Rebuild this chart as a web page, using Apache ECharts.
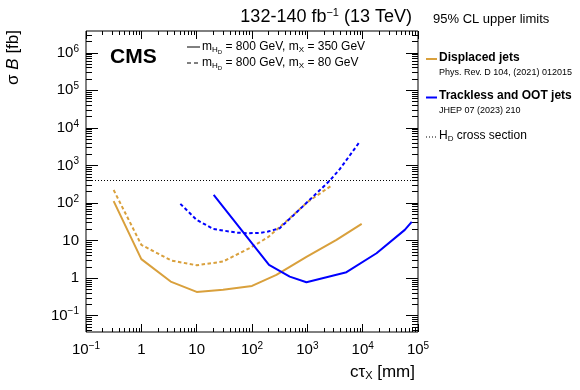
<!DOCTYPE html>
<html><head><meta charset="utf-8">
<script src="https://cdn.jsdelivr.net/npm/echarts@6/dist/echarts.min.js"></script>
<style>html,body{margin:0;padding:0;background:#fff}#c{width:580px;height:390px}</style>
</head><body><div id="c"></div>
<script>
// ---- data (cτ in mm, σB in fb) ----
const X_TICK_EXP = [-1, 0, 1, 2, 3, 4, 5];
const X_TICK_LABELS = ['10^-1', '1', '10', '10^2', '10^3', '10^4', '10^5'];
const Y_TICK_EXP = [-1, 0, 1, 2, 3, 4, 5, 6];
const Y_TICK_LABELS = ['10^-1', '1', '10', '10^2', '10^3', '10^4', '10^5', '10^6'];

const DJ350_CTAU  = [0.316, 1, 3.39, 10, 30, 100, 148, 276, 964, 3360, 9600];
const DJ350_SIGMA = [112, 3.2, 0.81, 0.43, 0.49, 0.62, 0.81, 1.22, 3.7, 10.4, 27.8];
const DJ80_CTAU   = [0.316, 1, 3.49, 10, 30, 98, 195, 481, 1030, 2840];
const DJ80_SIGMA  = [222, 7.7, 2.94, 2.2, 2.77, 6.7, 12.3, 39.4, 109, 303];
const TO350_CTAU  = [20.3, 203, 481, 964, 5100, 17800, 57700, 77000];
const TO350_SIGMA = [164, 2.26, 1.1, 0.78, 1.44, 4.6, 19.3, 31.4];
const TO80_CTAU   = [5.07, 10, 20, 52, 80, 138, 195, 317, 551, 1268, 2540, 3860, 8870];
const TO80_SIGMA  = [95, 35.6, 20.4, 16.3, 15.7, 16, 17.4, 21.4, 46, 148, 394, 800, 4300];
const HD_XSEC = 400;

const X_MIN = -1, X_MAX = 5, Y_MIN = -1.434, Y_MAX = 6.58;
const FONT = '"Liberation Sans", Arial, Helvetica, sans-serif';
const ORANGE = '#d9a03c', BLUE = '#0000ff';

function pts(xs, ys) { return xs.map((x, i) => [Math.log10(x), Math.log10(ys[i])]); }
function minorTicks(lo, hi) {
  const out = [];
  for (let n = Math.floor(lo); n <= Math.ceil(hi); n++)
    for (let k = 2; k <= 9; k++) { const v = n + Math.log10(k); if (v > lo && v < hi) out.push(v); }
  return out;
}
function powRich(lbl) {
  const p = lbl.split('^');
  return p.length > 1 ? '{n|' + p[0] + '}{s|' + p[1].replace('-', '\u2212') + '}' : '{n|' + p[0] + '}';
}
const labelRich = {
  n: { fontSize: 15, fontFamily: FONT, color: '#000', lineHeight: 20 },
  s: { fontSize: 10, fontFamily: FONT, color: '#000', lineHeight: 11, padding: [0, 0, 8, 0] }
};
const tickStyle = { color: '#000', width: 1 };

function xAx(pos, values, len, labels) {
  return {
    type: 'value', min: X_MIN, max: X_MAX, position: pos,
    axisLine: { show: false, onZero: false }, splitLine: { show: false },
    axisTick: { show: true, inside: true, length: len, customValues: values, lineStyle: tickStyle },
    axisLabel: labels ? {
      show: true, customValues: X_TICK_EXP, margin: 8, rich: labelRich,
      formatter: v => powRich(X_TICK_LABELS[X_TICK_EXP.indexOf(Math.round(v))])
    } : { show: false }
  };
}
function yAx(pos, values, len, labels) {
  return {
    type: 'value', min: Y_MIN, max: Y_MAX, position: pos,
    axisLine: { show: false, onZero: false }, splitLine: { show: false },
    axisTick: { show: true, inside: true, length: len, customValues: values, lineStyle: tickStyle },
    axisLabel: labels ? {
      show: true, customValues: Y_TICK_EXP, margin: 7, rich: labelRich,
      formatter: v => powRich(Y_TICK_LABELS[Y_TICK_EXP.indexOf(Math.round(v))])
    } : { show: false }
  };
}
const xMin = minorTicks(X_MIN, X_MAX), yMin = minorTicks(Y_MIN, Y_MAX);

function line(name, xs, ys, color, dashed) {
  return {
    name, type: 'line', xAxisIndex: 0, yAxisIndex: 0, data: pts(xs, ys),
    symbol: 'none', smooth: false, clip: true,
    lineStyle: { color, width: 2, type: dashed ? [3.5, 2.5] : 'solid' }
  };
}

const txt = (x, y, text, opt) => Object.assign({ type: 'text', x, y, style: Object.assign({
  text, fill: '#000', font: (opt && opt.font) || ('12px ' + FONT), align: 'left', verticalAlign: 'middle'
}, opt && opt.style) }, opt && opt.extra);

const chart = echarts.init(document.getElementById('c'), null, { renderer: 'canvas' });
chart.setOption({
  animation: false,
  backgroundColor: '#fff',
  grid: { left: 86, right: 162, top: 31, bottom: 58, show: true, borderColor: '#000', borderWidth: 1, backgroundColor: 'transparent' },
  xAxis: [xAx('bottom', X_TICK_EXP, 8, true), xAx('bottom', xMin, 4, false), xAx('top', X_TICK_EXP, 8, false), xAx('top', xMin, 4, false)],
  yAxis: [yAx('left', Y_TICK_EXP, 12, true), yAx('left', yMin, 6, false), yAx('right', Y_TICK_EXP, 12, false), yAx('right', yMin, 6, false)],
  series: [
    line('Displaced jets 350', DJ350_CTAU, DJ350_SIGMA, ORANGE, false),
    line('Displaced jets 80', DJ80_CTAU, DJ80_SIGMA, ORANGE, true),
    line('Trackless 350', TO350_CTAU, TO350_SIGMA, BLUE, false),
    Object.assign(line('Trackless 80', TO80_CTAU, TO80_SIGMA, BLUE, true), {
      markLine: { silent: true, symbol: 'none', label: { show: false },
        lineStyle: { color: '#000', width: 1, type: [1, 2] },
        data: [{ yAxis: Math.log10(HD_XSEC) }] }
    })
  ],
  graphic: [
    // title
    { type: 'text', x: 412, y: 17, style: { text: '{a|132-140 fb}{s|\u22121}{a| (13 TeV)}', align: 'right', verticalAlign: 'middle',
      rich: { a: { fontSize: 18, fontFamily: FONT, fill: '#000', lineHeight: 22 }, s: { fontSize: 11, fontFamily: FONT, fill: '#000', padding: [0, 0, 9, 0], lineHeight: 12 } } } },
    txt(433, 19, '95% CL upper limits', { font: '13px ' + FONT }),
    // CMS
    txt(110, 57, 'CMS', { font: 'bold 21px ' + FONT }),
    // in-plot legend
    { type: 'line', shape: { x1: 187, y1: 47, x2: 200, y2: 47 }, style: { stroke: '#000', lineWidth: 1 } },
    { type: 'line', shape: { x1: 187, y1: 63, x2: 200, y2: 63 }, style: { stroke: '#000', lineWidth: 1, lineDash: [4, 3] } },
    { type: 'text', x: 202, y: 47, style: { text: '{n|m}{s|H}{ss|D}{n| = 800 GeV, m}{s|X}{n| = 350 GeV}', align: 'left', verticalAlign: 'middle',
      rich: { n: { fontSize: 12, fontFamily: FONT, lineHeight: 16 }, s: { fontSize: 8, fontFamily: FONT, padding: [6, 0, 0, 0], lineHeight: 9 }, ss: { fontSize: 6, fontFamily: FONT, padding: [10, 0, 0, 0], lineHeight: 7 } } } },
    { type: 'text', x: 202, y: 63, style: { text: '{n|m}{s|H}{ss|D}{n| = 800 GeV, m}{s|X}{n| = 80 GeV}', align: 'left', verticalAlign: 'middle',
      rich: { n: { fontSize: 12, fontFamily: FONT, lineHeight: 16 }, s: { fontSize: 8, fontFamily: FONT, padding: [6, 0, 0, 0], lineHeight: 9 }, ss: { fontSize: 6, fontFamily: FONT, padding: [10, 0, 0, 0], lineHeight: 7 } } } },
    // right legend
    { type: 'line', shape: { x1: 426, y1: 59, x2: 437, y2: 59 }, style: { stroke: ORANGE, lineWidth: 2 } },
    txt(439, 58, 'Displaced jets', { font: 'bold 12px ' + FONT }),
    txt(439, 73, 'Phys. Rev. D 104, (2021) 012015', { font: '9px ' + FONT }),
    { type: 'line', shape: { x1: 426, y1: 97.5, x2: 437, y2: 97.5 }, style: { stroke: BLUE, lineWidth: 2 } },
    txt(439, 96, 'Trackless and OOT jets', { font: 'bold 12px ' + FONT }),
    txt(439, 111, 'JHEP 07 (2023) 210', { font: '9px ' + FONT }),
    { type: 'line', shape: { x1: 426, y1: 137, x2: 437, y2: 137 }, style: { stroke: '#000', lineWidth: 1, lineDash: [1, 2] } },
    { type: 'text', x: 439, y: 136, style: { text: '{n|H}{s|D}{n| cross section}', align: 'left', verticalAlign: 'middle',
      rich: { n: { fontSize: 12, fontFamily: FONT, lineHeight: 16 }, s: { fontSize: 8, fontFamily: FONT, padding: [6, 0, 0, 0], lineHeight: 9 } } } },
    // axis titles
    { type: 'text', x: 415, y: 372, style: { text: '{n|c\u03c4}{s|X}{n| [mm]}', align: 'right', verticalAlign: 'middle',
      rich: { n: { fontSize: 17, fontFamily: FONT, lineHeight: 20 }, s: { fontSize: 11, fontFamily: FONT, padding: [7, 0, 0, 0], lineHeight: 11 } } } },
    { type: 'text', x: 13, y: 30, rotation: Math.PI / 2, style: { text: '{n|\u03c3 }{i|B}{n| [fb]}', align: 'right', verticalAlign: 'middle',
      rich: { n: { fontSize: 17, fontFamily: FONT, lineHeight: 20 }, i: { fontSize: 17, fontFamily: FONT, fontStyle: 'italic', lineHeight: 20 } } } }
  ]
});
</script></body></html>
